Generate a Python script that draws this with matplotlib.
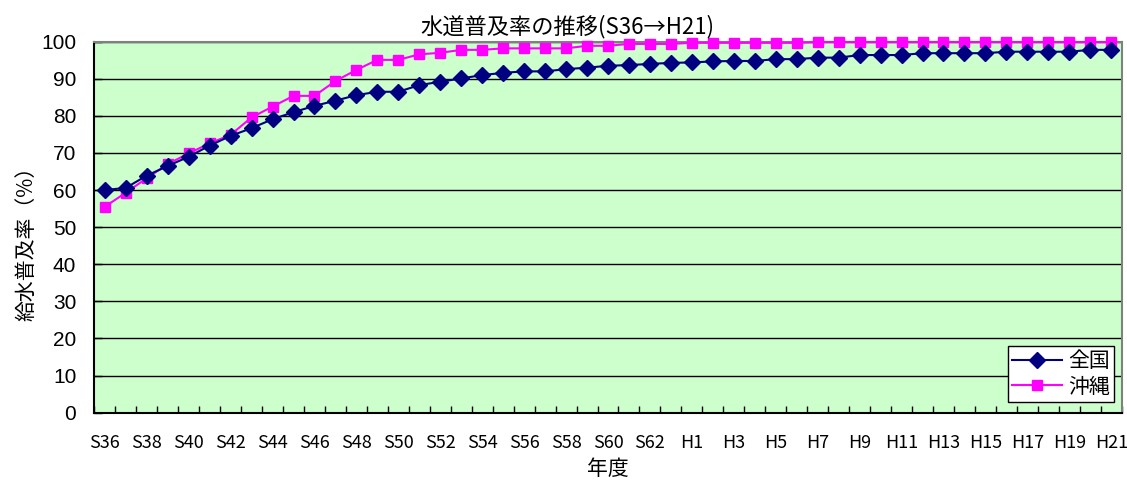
import matplotlib
matplotlib.use("Agg")
import matplotlib.pyplot as plt
from matplotlib.ticker import FixedLocator, MultipleLocator

plt.rcParams['font.family'] = ['Noto Sans CJK JP', 'DejaVu Sans']

years = [f"S{n}" for n in range(36, 64)] + [f"H{n}" for n in range(1, 22)]

zenkoku = [60.0, 60.6, 63.9, 66.5, 69.0, 72.0, 74.6, 76.7, 79.1, 81.0,
           82.7, 84.1, 85.6, 86.5, 86.5, 88.3, 89.2, 90.1, 91.0, 91.6,
           92.0, 92.0, 92.6, 93.0, 93.5, 93.7, 94.0, 94.3, 94.4, 94.7,
           94.8, 94.8, 95.3, 95.3, 95.7, 95.7, 96.4, 96.4, 96.4, 96.9,
           96.9, 96.9, 96.9, 97.3, 97.3, 97.3, 97.3, 97.8, 97.8]

okinawa = [55.5, 59.3, 63.2, 67.0, 69.9, 72.6, 74.9, 79.6, 82.5, 85.4,
           85.4, 89.4, 92.4, 95.1, 95.1, 96.6, 97.0, 97.8, 97.8, 98.2,
           98.2, 98.2, 98.2, 98.9, 98.9, 99.4, 99.4, 99.4, 99.7, 99.7,
           99.7, 99.7, 99.7, 99.7, 99.9, 99.9, 99.9, 99.9, 99.9, 99.9,
           99.9, 99.9, 99.9, 99.9, 99.9, 99.9, 99.9, 99.9, 99.9]

series_names = ["全国", "沖縄"]
title = "水道普及率の推移(S36→H21)"
xlabel = "年度"
ylabel = "給水普及率（%）"

fig = plt.figure(figsize=(11.27, 4.82), dpi=100)
ax = fig.add_axes([0.0837, 0.1438, 0.9953 - 0.0837, 0.9135 - 0.1438])
ax.set_facecolor("#CCFFCC")

x = list(range(len(years)))
ax.plot(x, zenkoku, color="#000080", marker="D", markersize=8, linewidth=1.5,
        label=series_names[0], clip_on=False, zorder=4)
ax.plot(x, okinawa, color="#FF00FF", marker="s", markersize=7.5, linewidth=1.5,
        label=series_names[1], clip_on=False, zorder=3)

ax.set_xlim(-0.5, len(years) - 0.5)
ax.set_ylim(0, 100)

ax.yaxis.set_major_locator(MultipleLocator(10))
ax.grid(axis="y", color="black", linewidth=1.0)
ax.set_axisbelow(True)

ax.set_xticks(x[::2])
ax.set_xticklabels(years[::2], fontsize=13, family=['Liberation Sans Narrow', 'Noto Sans CJK JP', 'DejaVu Sans'])
ax.xaxis.set_minor_locator(FixedLocator([i + 0.5 for i in range(-1, len(years))]))
ax.tick_params(axis="x", which="major", length=0, pad=15)
ax.tick_params(axis="x", which="minor", direction="in", length=5, width=1, color="black")
ax.tick_params(axis="y", which="major", direction="in", length=6, width=1, labelsize=15, pad=13)
for lab in ax.get_yticklabels():
    lab.set_family(['Liberation Sans', 'DejaVu Sans'])

for s in ["top", "right"]:
    ax.spines[s].set_color("#808080")
    ax.spines[s].set_linewidth(1.5)
for s in ["left", "bottom"]:
    ax.spines[s].set_color("black")
    ax.spines[s].set_linewidth(1.5)

fig.text(0.503, 1 - 27 / 482, title, ha="center", va="center", fontsize=16)
fig.text(0.5395, 1 - 469 / 482, xlabel, ha="center", va="center", fontsize=15)
fig.text(26 / 1127, 1 - 238 / 482, ylabel, ha="center", va="center", rotation=90, fontsize=15)

leg = ax.legend(loc="lower right", bbox_to_anchor=(1114 / 1127, 1 - 401.7 / 482),
                bbox_transform=fig.transFigure, fontsize=15, frameon=True,
                fancybox=False, edgecolor="black", framealpha=1, borderpad=0.2,
                handlelength=2.4, handletextpad=0.3, labelspacing=0.15, borderaxespad=0)
leg.get_frame().set_linewidth(1.0)

fig.savefig("out.png", dpi=100)
